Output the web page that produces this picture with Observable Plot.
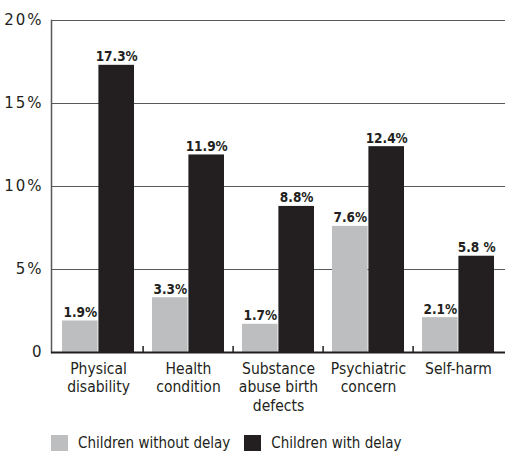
<!DOCTYPE html>
<html>
<head>
<meta charset="utf-8">
<script src="https://cdn.jsdelivr.net/npm/d3@7"></script>
<script src="https://cdn.jsdelivr.net/npm/@observablehq/plot@0.6"></script>
<style>
  body { margin: 0; background: #fff; }
  #chart { position: relative; width: 505px; height: 453px; }
  .legend { position: absolute; left: 51px; top: 434px; display: flex; align-items: center;
    font-family: "DejaVu Sans Condensed", sans-serif; font-size: 15px; color: #231f20; }
  .legend .item { display: flex; align-items: center; }
  .legend .swatch { width: 17px; height: 16px; margin-right: 10px; }
  .legend .item + .item { margin-left: 14px; }
  .yaxis text { letter-spacing: 2px; }
</style>
</head>
<body>
<div id="chart"></div>
<script>
// Categories and the two series of percentages
const categories = ["Physical\ndisability", "Health\ncondition", "Substance\nabuse birth\ndefects", "Psychiatric\nconcern", "Self-harm"];
const withoutDelay = [1.9, 3.3, 1.7, 7.6, 2.1];
const withDelay = [17.3, 11.9, 8.8, 12.4, 5.8];
const withoutDelayLabels = ["1.9%", "3.3%", "1.7%", "7.6%", "2.1%"];
const withDelayLabels = ["17.3%", "11.9%", "8.8%", "12.4%", "5.8 %"];
const seriesNames = ["Children without delay", "Children with delay"];
const seriesColors = ["#bcbec0", "#231f20"];
const yTicks = [0, 5, 10, 15, 20];

const rowsWithout = categories.map((c, i) => ({category: c, value: withoutDelay[i], label: withoutDelayLabels[i]}));
const rowsWith = categories.map((c, i) => ({category: c, value: withDelay[i], label: withDelayLabels[i]}));

const width = 505, marginLeft = 51, marginRight = 0;
const bw = (width - marginLeft - marginRight) / categories.length;
const outer = 9;              // gap between a group and its band edge
const half = bw / 2;
const barCenter = (half - outer) / 2 + outer - half; // offset of the left bar's centre from band centre

const narrow = "'DejaVu Sans Condensed', sans-serif";

const chart = Plot.plot({
  width,
  height: 415,
  marginLeft,
  marginRight,
  marginTop: 20,
  marginBottom: 63,
  x: {domain: categories, padding: 0, axis: null, label: null},
  y: {domain: [0, 20], axis: null, label: null},
  style: {background: "#fff", color: "#231f20"},
  marks: [
    Plot.ruleY(yTicks.filter(d => d > 0), {stroke: "#58595b", strokeWidth: 1.2}),
    Plot.barY(rowsWithout, {x: "category", y: "value", fill: seriesColors[0], insetLeft: outer, insetRight: half}),
    Plot.barY(rowsWith, {x: "category", y: "value", fill: seriesColors[1], insetLeft: half, insetRight: outer}),
    Plot.text(rowsWithout, {x: "category", y: "value", text: "label", dx: barCenter, dy: -4, lineAnchor: "bottom",
      fontFamily: narrow, fontWeight: "bold", fontSize: 13.5, fill: "#231f20"}),
    Plot.text(rowsWith, {x: "category", y: "value", text: "label", dx: -barCenter, dy: -4, lineAnchor: "bottom",
      fontFamily: narrow, fontWeight: "bold", fontSize: 13.5, fill: "#231f20"}),
    Plot.frame({anchor: "left", stroke: "#58595b", strokeWidth: 1.5}),
    Plot.ruleY([0], {stroke: "#231f20", strokeWidth: 2}),
    Plot.ruleX(categories.slice(1), {x: d => d, y1: 0, y2: 0, insetTop: -6, dx: -half, stroke: "#231f20", strokeWidth: 1.5}),
    Plot.axisY(yTicks, {label: null, tickSize: 0, tickPadding: 8, tickFormat: d => d === 0 ? "0" : d + "%",
      fontFamily: "'DejaVu Sans', sans-serif", fontSize: 15, className: "yaxis", fill: "#231f20"}),
    Plot.axisX({label: null, tickSize: 0, tickPadding: 8, lineHeight: 1.2, fontFamily: narrow, fontSize: 15.5, fill: "#231f20"})
  ]
});

const root = document.getElementById("chart");
root.appendChild(chart);

const legend = document.createElement("div");
legend.className = "legend";
seriesNames.forEach((name, i) => {
  const item = document.createElement("div");
  item.className = "item";
  const sw = document.createElement("span");
  sw.className = "swatch";
  sw.style.background = seriesColors[i];
  const label = document.createElement("span");
  label.textContent = name;
  item.appendChild(sw);
  item.appendChild(label);
  legend.appendChild(item);
});
root.appendChild(legend);
</script>
</body>
</html>
